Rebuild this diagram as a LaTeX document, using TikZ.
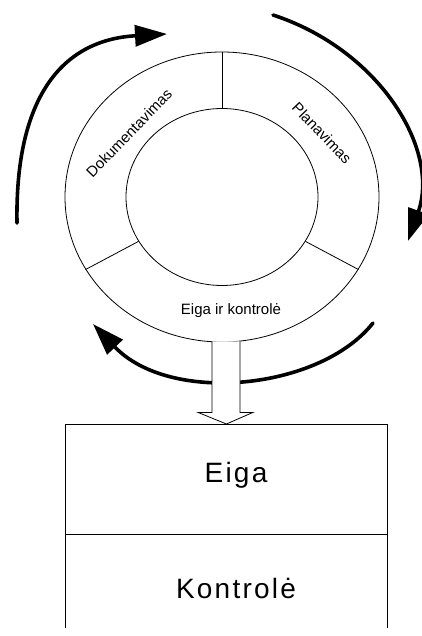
\documentclass[tikz,border=0pt]{standalone}
\usepackage{fontspec}
\setmainfont{Liberation Sans}
\newfontfamily\boxfont[LetterSpace=8]{Liberation Sans}
\usepackage{tikz}
\usetikzlibrary{positioning,shapes,arrows.meta,calc}

\begin{document}
\begin{tikzpicture}[x=1pt,y=-1pt,
        thin line/.style={line width=0.8pt},
        cycle arrow/.style={line width=3.6pt, line cap=round,
            -{Triangle[length=32pt,width=21pt]}},
        ring label/.style={font=\fontsize{15}{18}\selectfont, inner sep=0},
        box label/.style={font=\boxfont\fontsize{28}{32}\selectfont, inner sep=0}]
        \useasboundingbox (0,0) rectangle (421,636);

        % ring with three parts
        \node[ellipse, draw, thin line, inner sep=0,
            minimum width=314, minimum height=290](outer) at (222,197){};
        \node[ellipse, draw, thin line, inner sep=0,
            minimum width=192, minimum height=177](inner) at (222,197){};
        \draw[thin line] (outer.north) -- (inner.north);
        \draw[thin line] (outer.208) -- (inner.208);
        \draw[thin line] (outer.332) -- (inner.332);

        \node[ring label, rotate=46](dok) at (129,133){Dokumentavimas};
        \node[ring label, rotate=-46](plan) at (322,133){Planavimas};
        \node[ring label, anchor=base](eik) at (231,314){Eiga ir kontrolė};

        % arrows round the ring
        \draw[cycle arrow] (17,223) 
            .. controls (15,100) and (60,40) .. (167,34);
        \draw[cycle arrow] (273,15) 
            .. controls (380,50) and (440,150) .. (408,241);
        \draw[cycle arrow] (373,323) 
            .. controls (320,390) and (170,405) .. (93,324);

        % box below
        \node[draw, thin line, anchor=north west,
            minimum width=322, minimum height=110](eigabox) at (65,424){};
        \draw[thin line] (eigabox.south west) -- ++(0,93);
        \draw[thin line] (eigabox.south east) -- ++(0,93);
        \node[box label, anchor=base](eiga) at (236,482){Eiga};
        \node[box label, anchor=base](kontrole) at (236,598){Kontrolė};

        % hollow arrow from ring to box
        \coordinate (shaft) at ($(outer.south)+(4,-1)$);
        \draw[thin line, fill=white] ($(shaft)+(-14,0)$)
            -- ($(shaft)+(-14,71)$) -- ($(shaft)+(-28,71)$)
            -- (eigabox.north)
            -- ($(shaft)+(27,71)$) -- ($(shaft)+(14,71)$)
            -- ($(shaft)+(14,0)$);
    \end{tikzpicture}
\end{document}
